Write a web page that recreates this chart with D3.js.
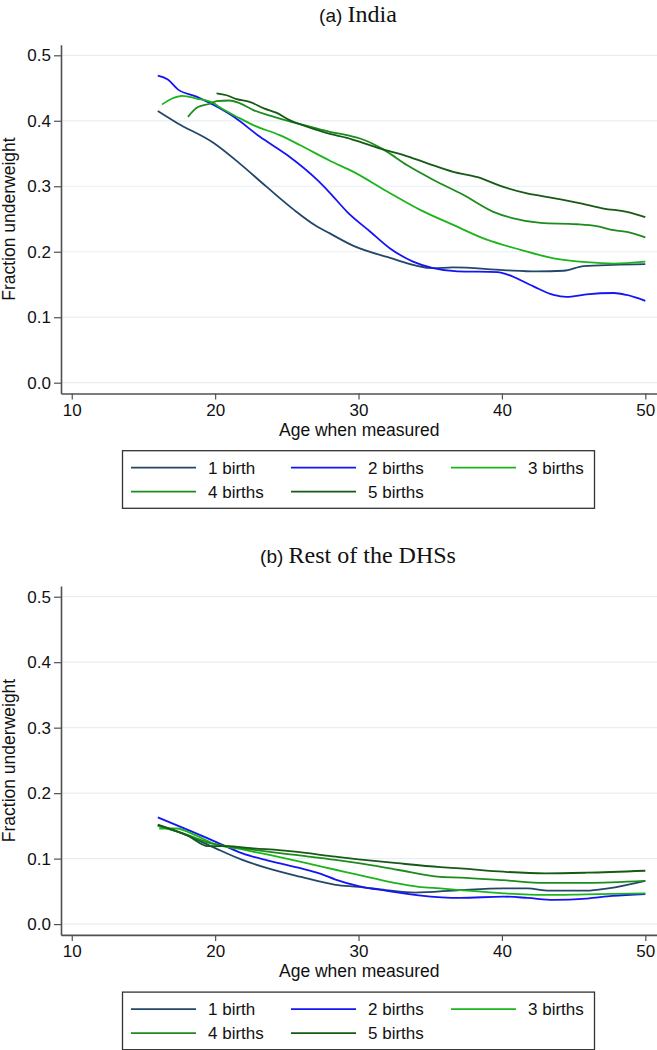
<!DOCTYPE html>
<html><head><meta charset="utf-8">
<script src="https://cdn.jsdelivr.net/npm/d3@7"></script>
<style>
body{margin:0;background:#fff;}
svg{display:block;}
text{font-family:"Liberation Sans",Arial,sans-serif;fill:#111;}
</style></head><body>
<svg id="chart" width="657" height="1050"></svg>
<script>
// ---- data ----
const seriesNames = ["1 birth","2 births","3 births","4 births","5 births"];
const seriesColors = ["#23476b","#1414f5","#1cb41c","#1c8c1c","#155a15"];
const panelTitles = [["(a) ","India"],["(b) ","Rest of the DHSs"]];
const xTicks = [10,20,30,40,50];
const yTicks = [0,0.1,0.2,0.3,0.4,0.5];

const india1 = [[16.0,.415],[17.4,.396],[19.9,.366],[21.7,.335],[23.6,.299],[25.5,.264],[27.0,.240],[28.0,.228],[29.65,.209],[32.0,.192],[35.2,.175],[36.6,.176],[40.1,.172],[42.4,.170],[44.3,.171],[45.7,.178],[47.8,.180],[50,.181]];
const india2 = [[16.0,.469],[16.7,.463],[17.4,.448],[18.7,.437],[19.9,.424],[21.3,.406],[23.1,.376],[25.0,.348],[27.1,.310],[28.0,.290],[29.2,.261],[30.8,.231],[32.2,.205],[33.8,.185],[35.2,.175],[36.9,.170],[39.7,.169],[40.4,.165],[42.2,.147],[43.6,.134],[44.5,.131],[45.9,.135],[47.8,.137],[48.7,.134],[50,.125]];
const india3 = [[16.3,.425],[17.0,.434],[17.7,.438],[18.7,.434],[19.9,.427],[20.3,.421],[21.7,.404],[22.7,.393],[24.5,.378],[25.9,.363],[28.0,.339],[29.65,.322],[32.0,.292],[34.3,.264],[36.6,.241],[39.0,.218],[41.3,.203],[43.6,.190],[45.9,.184],[47.8,.182],[50,.185]];
const india4 = [[18.1,.406],[18.8,.421],[19.65,.426],[20.1,.430],[21.0,.431],[21.7,.427],[22.7,.416],[24.1,.406],[25.2,.399],[26.6,.391],[28.0,.383],[29.2,.378],[30.35,.371],[31.75,.356],[33.4,.332],[35.2,.310],[37.3,.287],[39.4,.261],[40.8,.251],[42.7,.244],[45.2,.242],[46.6,.239],[47.8,.233],[49.0,.229],[50,.222]];
const india5 = [[20.1,.442],[20.8,.439],[21.5,.433],[22.4,.429],[23.4,.419],[24.3,.412],[25.2,.401],[26.4,.391],[28.0,.380],[29.2,.374],[30.35,.366],[31.75,.356],[33.1,.348],[34.8,.335],[36.6,.322],[38.3,.314],[40.1,.299],[41.75,.289],[43.6,.282],[45.5,.274],[47.1,.266],[48.7,.261],[50,.253]];

const rest1 = [[16,.151],[18.1,.135],[20,.116],[21.9,.098],[23.7,.085],[26,.072],[28.4,.060],[30,.057],[31.9,.052],[33.9,.048],[37.1,.052],[40.1,.0545],[41.8,.0545],[43.3,.051],[45.9,.051],[47.4,.0545],[50,.066]];
const rest2 = [[16,.163],[18.1,.144],[20,.126],[21.9,.108],[23.7,.097],[26,.085],[27.2,.078],[28.4,.068],[30,.058],[31.9,.051],[34.2,.044],[37.1,.040],[40.1,.042],[41.8,.040],[43.6,.037],[45.9,.039],[47.7,.043],[50,.046]];
const rest3 = [[16.1,.146],[17.3,.146],[18.7,.135],[20,.122],[21.9,.114],[23.7,.106],[26,.095],[28.4,.083],[30,.075],[32.5,.063],[34.2,.057],[35.7,.0545],[37.1,.052],[40.1,.047],[43,.0445],[45.9,.0455],[50,.047]];
const rest4 = [[16,.150],[18.1,.136],[19.6,.124],[20.8,.119],[22.5,.114],[25.4,.106],[28.4,.098],[30,.093],[32.7,.083],[35.7,.072],[37.1,.071],[40.1,.067],[43,.063],[45.9,.063],[50,.066]];
const rest5 = [[16,.152],[18.1,.135],[19.5,.119],[20.8,.119],[22.5,.116],[25.4,.111],[28.4,.103],[30,.099],[32.7,.093],[35.7,.087],[37.1,.085],[40.1,.080],[43,.0775],[45.9,.0785],[50,.0815]];

const panels = [
  {title: panelTitles[0], series: [india1,india2,india3,india4,india5]},
  {title: panelTitles[1], series: [rest1,rest2,rest3,rest4,rest5]}
];

// ---- drawing ----
const svg = d3.select("#chart");
const x = d3.scaleLinear().domain([9.25,50.85]).range([61,657.5]);
const y = d3.scaleLinear().domain([-0.0165,0.5162]).range([393.5,44.7]);
const axisColor = "#505050";
const panelOffset = 541.4;

panels.forEach((p,i)=>{
  const g = svg.append("g").attr("transform",`translate(0,${i*panelOffset})`);

  // title
  const t = g.append("text").attr("x",358).attr("y",21.5).attr("text-anchor","middle");
  t.append("tspan").text(p.title[0]).style("font-size","19px");
  t.append("tspan").text(p.title[1]).style("font-family","'Liberation Serif','Times New Roman',serif").style("font-size","24px");

  // gridlines
  g.append("g").selectAll("line").data(yTicks).join("line")
    .attr("x1",x.range()[0]).attr("x2",657)
    .attr("y1",d=>y(d)).attr("y2",d=>y(d))
    .attr("stroke","#e6eef2").attr("stroke-width",1.2);

  // axes
  const ya = g.append("g").attr("transform",`translate(${x.range()[0]},0)`)
    .call(d3.axisLeft(y).tickValues(yTicks).tickFormat(d3.format(".1f")).tickSizeInner(7).tickSizeOuter(0).tickPadding(3));
  const xa = g.append("g").attr("transform",`translate(0,${y.range()[0]})`)
    .call(d3.axisBottom(x).tickValues(xTicks).tickFormat(d3.format("d")).tickSizeInner(6).tickSizeOuter(0).tickPadding(4));
  [ya,xa].forEach(a=>{
    a.select(".domain").attr("stroke",axisColor).attr("stroke-width",1.6);
    a.selectAll(".tick line").attr("stroke",axisColor).attr("stroke-width",1.2);
    a.selectAll(".tick text").style("font-size","17px").style("font-family","'Liberation Sans',Arial,sans-serif").attr("fill","#111");
  });

  // axis titles
  g.append("text").attr("transform",`translate(15,${(y.range()[0]+y.range()[1])/2}) rotate(-90)`)
    .attr("text-anchor","middle").style("font-size","17.5px").text("Fraction underweight");
  g.append("text").attr("x",(x.range()[0]+x.range()[1])/2).attr("y",436)
    .attr("text-anchor","middle").style("font-size","17.5px").text("Age when measured");

  // series
  const line = d3.line().x(d=>x(d[0])).y(d=>y(d[1])).curve(d3.curveMonotoneX);
  g.append("g").selectAll("path").data(p.series).join("path")
    .attr("d",line).attr("fill","none")
    .attr("stroke",(d,k)=>seriesColors[k]).attr("stroke-width",1.8);

  // legend
  const lg = g.append("g");
  lg.append("rect").attr("x",122.5).attr("y",450.7).attr("width",472).attr("height",57.6)
    .attr("fill","#fff").attr("stroke","#333").attr("stroke-width",1.3);
  const colX = [131,291,451];
  const rowY = [467.7,491.7];
  seriesNames.forEach((nm,k)=>{
    const cx = colX[k%3], cy = rowY[Math.floor(k/3)];
    lg.append("line").attr("x1",cx).attr("x2",cx+65).attr("y1",cy).attr("y2",cy)
      .attr("stroke",seriesColors[k]).attr("stroke-width",1.8);
    lg.append("text").attr("x",cx+77).attr("y",cy).attr("dy","0.35em")
      .style("font-size","17px").text(nm);
  });
});
</script>
</body></html>
